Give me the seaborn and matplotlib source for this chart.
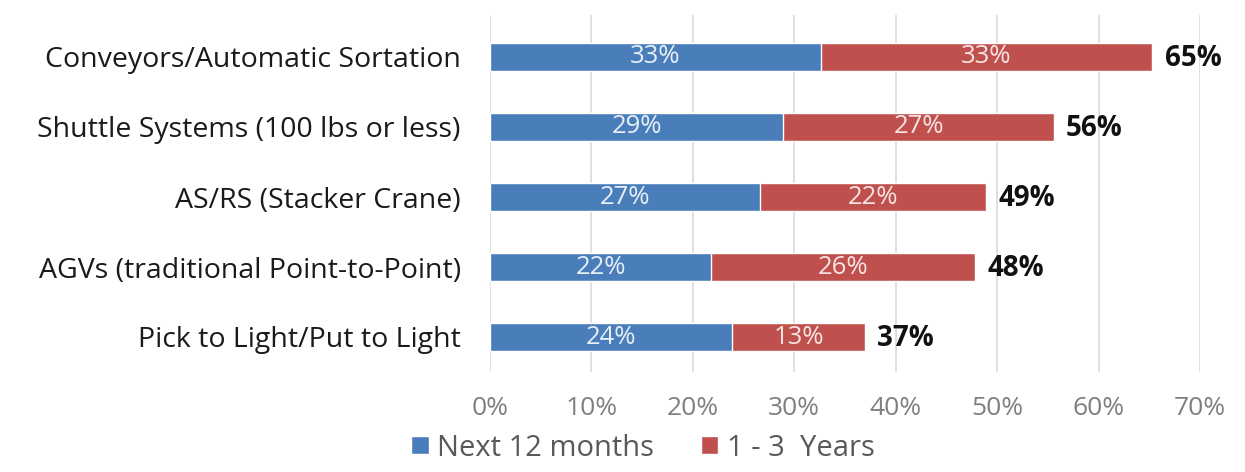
import matplotlib
matplotlib.use("Agg")
import matplotlib.pyplot as plt
import seaborn as sns
import pandas as pd
from matplotlib.patches import Patch

categories = [
    "Conveyors/Automatic Sortation",
    "Shuttle Systems (100 lbs or less)",
    "AS/RS (Stacker Crane)",
    "AGVs (traditional Point-to-Point)",
    "Pick to Light/Put to Light",
]
next_12_months = [32.6, 28.9, 26.6, 21.8, 23.9]
one_to_three_years = [32.7, 26.7, 22.3, 26.0, 13.1]
series_names = ["Next 12 months", "1 - 3  Years"]
x_ticks = [0, 10, 20, 30, 40, 50, 60, 70]

BLUE = "#4A7EBB"
RED = "#C0504D"

totals = [a + b for a, b in zip(next_12_months, one_to_three_years)]
df = pd.DataFrame({"category": categories, "next": next_12_months,
                   "later": one_to_three_years, "total": totals})

sns.set_theme(style="white")
plt.rcParams["font.family"] = ["Open Sans", "DejaVu Sans"]

fig = plt.figure(figsize=(12.45, 4.72), dpi=100)
ax = fig.add_axes([490 / 1245, 1 - 372 / 472, 710 / 1245, 357 / 472])

sns.barplot(data=df, x="total", y="category", order=categories, color=RED,
            width=0.4, orient="h", ax=ax, saturation=1, zorder=3)
sns.barplot(data=df, x="next", y="category", order=categories, color=BLUE,
            width=0.4, orient="h", ax=ax, saturation=1, zorder=3)

for i, (a, b, t) in enumerate(zip(next_12_months, one_to_three_years, totals)):
    ax.text(a / 2, i, f"{round(a)}%", ha="center", va="center",
            color="#E8EEF6", fontsize=18.5, zorder=4)
    ax.text(a + b / 2, i, f"{round(b)}%", ha="center", va="center",
            color="#F6E4E4", fontsize=18.5, zorder=4)
    ax.text(t + 1.2, i + 0.02, f"{round(t)}%", ha="left", va="center",
            color="#111111", fontsize=20, fontweight="bold", zorder=4)

ax.set_xlim(0, 70)
ax.set_ylim(4.5, -0.6)
ax.set_xticks(x_ticks)
ax.set_xticklabels([f"{v}%" for v in x_ticks])
ax.set_xlabel("")
ax.set_ylabel("")
ax.grid(axis="x", color="#D9D9D9", linewidth=1.2, zorder=0)
ax.grid(axis="y", visible=False)
for s in ax.spines.values():
    s.set_visible(False)
ax.tick_params(axis="x", colors="#7F7F7F", labelsize=19, pad=17, length=0)
ax.tick_params(axis="y", colors="#1A1A1A", labelsize=20.5, pad=21, length=0)
for lbl in ax.get_yticklabels():
    lbl.set_color("#1A1A1A")

handles = [Patch(facecolor=BLUE, label=series_names[0]),
           Patch(facecolor=RED, label=series_names[1])]
leg = fig.legend(handles=handles, loc="center", bbox_to_anchor=(643 / 1245, 1 - 448 / 472),
                 ncol=2, frameon=False, fontsize=21, handlelength=0.6, handleheight=0.6,
                 handletextpad=0.3, columnspacing=1.6)
for t in leg.get_texts():
    t.set_color("#595959")

fig.savefig("out.png", dpi=100)
